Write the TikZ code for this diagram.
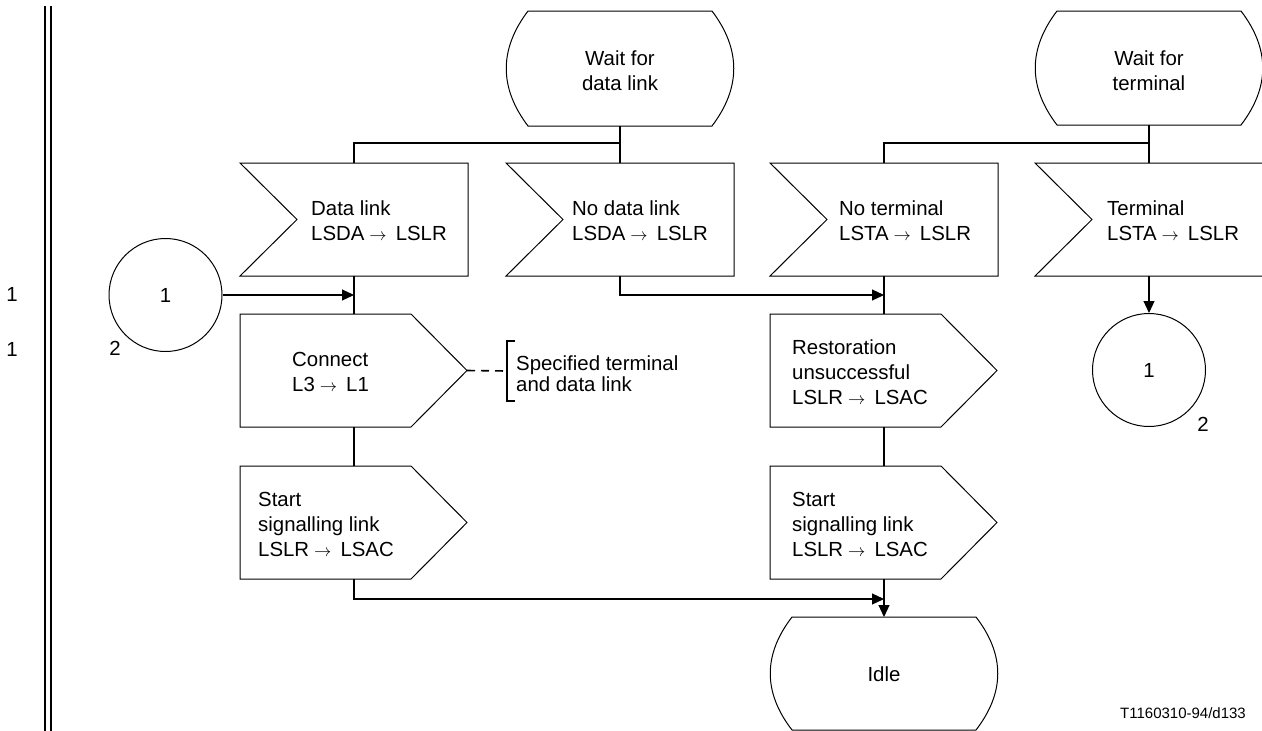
\documentclass[tikz,border=0pt]{standalone}
\usepackage{fontspec}
\setmainfont{Liberation Sans}
\usetikzlibrary{arrows.meta}
\newcommand\arr{\kern5pt{\fontsize{16}{16}\selectfont$\rightarrow$}\kern9pt}
% input symbol: name, centre x, top y
\newcommand\inpsym[3]{%
  \draw[symline] (#2-114,#3) -- (#2+114,#3) -- (#2+114,#3+113) -- (#2-114,#3+113) -- (#2-57,#3+56.5) -- cycle;
  \coordinate (#1-n) at (#2,#3);
  \coordinate (#1-s) at (#2,#3+113);}
% output symbol: name, centre x, top y
\newcommand\outsym[3]{%
  \draw[symline] (#2-114,#3) -- (#2+57,#3) -- (#2+113,#3+56.5) -- (#2+57,#3+113) -- (#2-114,#3+113) -- cycle;
  \coordinate (#1-n) at (#2,#3);
  \coordinate (#1-s) at (#2,#3+113);
  \coordinate (#1-e) at (#2+113,#3+56.5);}
% state symbol: name, centre x, top y, bottom y
\newcommand\statesym[4]{%
  \draw[symline] (#2-92,#3) -- (#2+92,#3)
    .. controls (#2+121,{#3+(#4-#3)/3}) and (#2+121,{#4-(#4-#3)/3}) .. (#2+92,#4)
    -- (#2-92,#4)
    .. controls (#2-121,{#4-(#4-#3)/3}) and (#2-121,{#3+(#4-#3)/3}) .. (#2-92,#3) -- cycle;
  \coordinate (#1-n) at (#2,#3);
  \coordinate (#1-s) at (#2,#4);}
\begin{document}
\begin{tikzpicture}[x=1pt,y=-1pt,
  symline/.style={line width=1pt},
  conn/.style={line width=1.2pt},
  arrowed/.style={conn,-{Triangle[length=12pt,width=11pt]}},
  txt/.style={font=\fontsize{20.4}{25}\selectfont, inner sep=0pt, align=left},
  ctxt/.style={txt, align=center},
  small/.style={font=\fontsize{15}{15}\selectfont, inner sep=0pt},
  conncircle/.style={draw, circle, line width=1pt, minimum size=113pt, inner sep=0pt, font=\fontsize{20.4}{25}\selectfont}]
\useasboundingbox (0,0) rectangle (1262,731);

% page margin double rule
\draw[line width=1.8pt] (45,6) -- (45,731);
\draw[line width=1.8pt] (51,6) -- (51,731);
\node[txt] (m1) at (12,294) {1};
\node[txt] (m2) at (12,349) {1};

% states
\statesym{wdl}{620}{11}{126}
\node[ctxt] (wdlt) at (620,71) {Wait for\\data link};
\statesym{wt}{1149}{11}{125}
\node[ctxt] (wtt) at (1149,71) {Wait for\\terminal};
\statesym{idle}{884}{617}{730}
\node[ctxt] (idlet) at (884,674) {Idle};

% inputs
\inpsym{dl}{354}{163}
\node[txt, anchor=west] (dlt) at (311,221) {Data link\\LSDA\arr LSLR};
\inpsym{ndl}{620}{163}
\node[txt, anchor=west] (ndlt) at (572,221) {No data link\\LSDA\arr LSLR};
\inpsym{nt}{884}{163}
\node[txt, anchor=west] (ntt) at (839,221) {No terminal\\LSTA\arr LSLR};
\inpsym{t}{1149}{163}
\node[txt, anchor=west] (tt) at (1107,221) {Terminal\\LSTA\arr LSLR};

% outputs
\outsym{con}{354}{314}
\node[txt, anchor=west] (cont) at (292,372) {Connect\\L3\arr L1};
\outsym{res}{884}{314}
\node[txt, anchor=west] (rest) at (792,372) {Restoration\\unsuccessful\\LSLR\arr LSAC};
\outsym{st1}{354}{466}
\node[txt, anchor=west] (st1t) at (258,524) {Start\\signalling link\\LSLR\arr LSAC};
\outsym{st2}{884}{466}
\node[txt, anchor=west] (st2t) at (792,524) {Start\\signalling link\\LSLR\arr LSAC};

% connectors
\node[conncircle] (c1) at (165.5,295) {1};
\node[txt] (c1l) at (115,348) {2};
\node[conncircle] (c2) at (1149,370) {1};
\node[txt] (c2l) at (1203,424) {2};

% junctions
\coordinate (jwdl) at (620,143);
\coordinate (jwt) at (1149,143);
\coordinate (jc1) at (354,295);
\coordinate (jndl) at (884,295);
\coordinate (jst1) at (884,599);

% flow lines
\draw[conn] (wdl-s) -- (ndl-n);
\draw[conn] (jwdl) -| (dl-n);
\draw[conn] (wt-s) -- (t-n);
\draw[conn] (jwt) -| (nt-n);
\draw[conn] (dl-s) -- (con-n);
\draw[arrowed] (c1.east) -- (jc1);
\draw[arrowed] (ndl-s) |- (jndl);
\draw[conn] (nt-s) -- (res-n);
\draw[arrowed] (t-s) -- (c2.north);
\draw[conn] (con-s) -- (st1-n);
\draw[conn] (res-s) -- (st2-n);
\draw[arrowed] (st1-s) |- (jst1);
\draw[arrowed] (st2-s) -- (idle-n);

% comment
\coordinate (cm) at (506,371);
\draw[line width=1.6pt, dash pattern=on 8pt off 6pt] (con-e) -- (cm);
\draw[line width=1.3pt] (515,341) -- (507,341) -- (507,401) -- (515,401);
\node[txt, anchor=west, font=\fontsize{20.4}{21}\selectfont] (cmt) at (516,374) {Specified terminal\\and data link};

\node[small] (ref) at (1183,713) {T1160310-94/d133};
\end{tikzpicture}
\end{document}
